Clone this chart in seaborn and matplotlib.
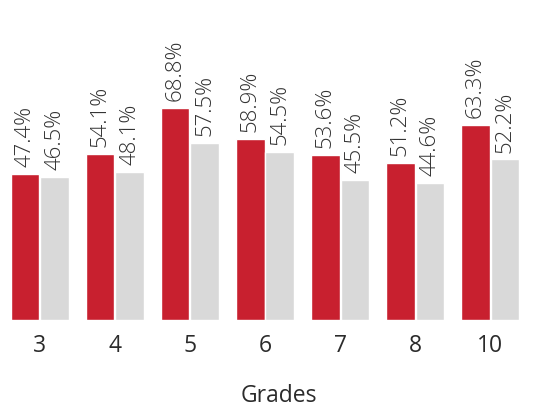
import matplotlib
matplotlib.use('Agg')
import matplotlib.pyplot as plt
import pandas as pd
import seaborn as sns

# ── Data ─────────────────────────────────────────────────────────────────────
grades = ['3', '4', '5', '6', '7', '8', '10']
school = [47.4, 54.1, 68.8, 58.9, 53.6, 51.2, 63.3]
state = [46.5, 48.1, 57.5, 54.5, 45.5, 44.6, 52.2]

RED = '#C8202F'
GRAY = '#D9D9D9'

df = pd.DataFrame({
    'grade': grades * 2,
    'value': school + state,
    'series': ['School'] * len(grades) + ['State'] * len(grades),
})

sns.set_style('white')
plt.rcParams['font.family'] = ['Open Sans', 'DejaVu Sans']

fig = plt.figure(figsize=(5.57, 4.12), dpi=100)
ax = fig.add_axes([0, 0.223, 1, 0.777])

sns.barplot(data=df, x='grade', y='value', hue='series', order=grades,
            palette=[RED, GRAY], width=0.79, gap=0.03, saturation=1,
            legend=False, ax=ax)

for cont in ax.containers:
    ax.bar_label(cont, fmt='%.1f%%', rotation=90, padding=5,
                 fontsize=16, fontweight='light', color='#333333')

ax.set_xlim(-0.53, 6.89)
ax.set_ylim(0, 104)
ax.set_yticks([])
ax.set_ylabel('')
ax.set_xlabel('Grades', fontsize=16.5, color='#2b2b2b', labelpad=19)
ax.tick_params(axis='x', length=0, pad=10, labelsize=16.5, labelcolor='#2b2b2b')
sns.despine(ax=ax, left=True, bottom=True)

plt.savefig('out.png', dpi=100)
plt.close()
